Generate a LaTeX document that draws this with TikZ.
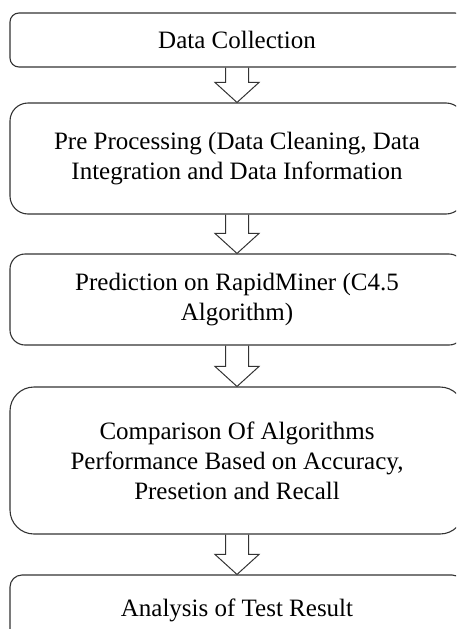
\documentclass[tikz,border=0pt]{standalone}
\usepackage{fontspec}
\setmainfont{Liberation Serif}
\usepackage{tikz}
\usetikzlibrary{calc}
\pgfdeclarelayer{bg}
\pgfsetlayers{bg,main}

\begin{document}
\begin{tikzpicture}[
        stage/.style={draw=black!80, line width=1.1pt, align=center, minimum width=454pt,
                font=\fontsize{25}{30}\selectfont, inner sep=0pt},
        blockarrow/.style={draw=black!80, line width=1pt, to path={
                let \p1=(\tikztostart), \p2=(\tikztotarget) in
                (\x1-11.5pt,\y1) -- (\x1-11.5pt,\y2+20pt) -- (\x1-22pt,\y2+20pt) -- (\x2,\y2)
                -- (\x1+22pt,\y2+20pt) -- (\x1+11.5pt,\y2+20pt) -- (\x1+11.5pt,\y1)}}]
        \clip (0cm, 0cm) rectangle (16.026530cm, -22.106771cm);
        \node (s1) [stage, minimum height=54pt, rounded corners=9pt] at (8.329578cm, -1.405836cm) {Data Collection};
        \node (s2) [stage, minimum height=111pt, rounded corners=18pt] at (8.329578cm, -5.570625cm) {Pre Processing (Data Cleaning, Data\\Integration and Data Information};
        \node (s3) [stage, minimum height=91pt, rounded corners=15pt] at (8.329578cm, -10.526197cm) {Prediction on RapidMiner (C4.5\\Algorithm)};
        \node (s4) [stage, minimum height=147pt, rounded corners=24pt] at (8.329578cm, -16.184687cm) {Comparison Of Algorithms\\Performance Based on Accuracy,\\Presetion and Recall};
        \node (s5) [stage, minimum height=70pt, rounded corners=12pt] at (8.329578cm, -21.439000cm) {Analysis of Test Result};
        \begin{pgfonlayer}{bg}
                \draw (s1.south) edge [blockarrow] (s2.north);
                \draw (s2.south) edge [blockarrow] (s3.north);
                \draw (s3.south) edge [blockarrow] (s4.north);
                \draw (s4.south) edge [blockarrow] (s5.north);
        \end{pgfonlayer}
\end{tikzpicture}
\end{document}
